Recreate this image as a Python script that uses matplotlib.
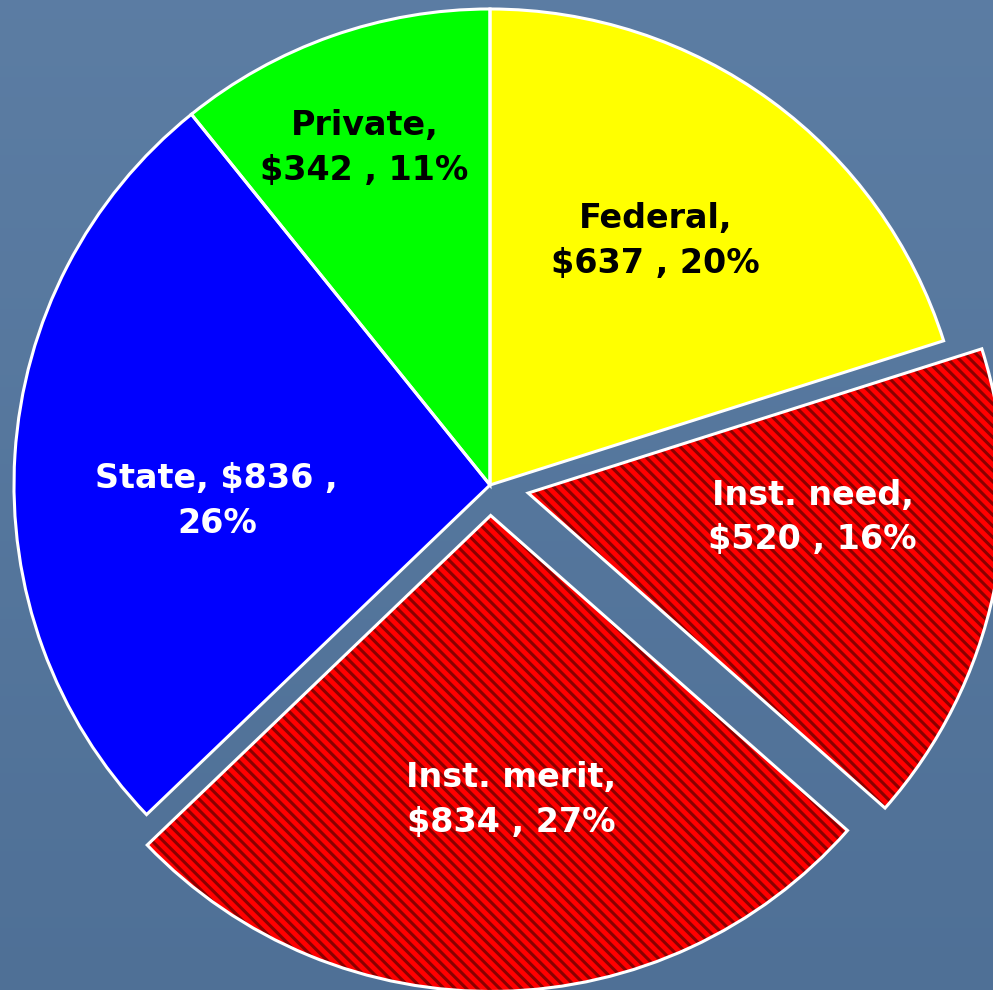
import numpy as np
import matplotlib.pyplot as plt

# Aid sources (in $ millions), clockwise from 12 o'clock
labels = ["Federal,\n$637 , 20%", "Inst. need,\n$520 , 16%", "Inst. merit,\n$834 , 27%",
          "State, $836 ,\n26%", "Private,\n$342 , 11%"]
values = [637, 520, 834, 836, 342]
colors = ["#ffff00", "#ff0000", "#ff0000", "#0000ff", "#00ff00"]
text_colors = ["black", "white", "white", "white", "black"]
hatched = [False, True, True, False, False]

radius = 476
# pie() takes the explode offset in data units here (pixels)
explode = [0, 0.082 * radius, 0.064 * radius, 0, 0]

# label placement: (fraction of radius, angle tweak in degrees)
label_pos = [(0.62, 2), (0.60, 7), (0.60, 3), (0.575, 7), (0.755, 1)]

plt.rcParams['hatch.linewidth'] = 2.2

fig = plt.figure(figsize=(9.93, 9.90), dpi=100)
ax = fig.add_axes([0, 0, 1, 1])
ax.axis('off')

# background gradient (blue slate), lighter at the top
grad = np.linspace(0, 1, 256).reshape(-1, 1)
top = np.array([0.36, 0.49, 0.64])
bot = np.array([0.31, 0.44, 0.59])
bg = top + (bot - top) * grad[:, :, None]
ax.imshow(bg, extent=[0, 993, 0, 990], origin='upper', aspect='auto', zorder=0)

center = (490, 505)

wedges, _ = ax.pie(values, colors=colors, explode=explode, startangle=90,
                   counterclock=False, center=center, radius=radius,
                   wedgeprops=dict(linewidth=0))
for w, h in zip(wedges, hatched):
    w.set_zorder(2)
    if h:
        w.set_hatch('\\\\\\')
        w.set_edgecolor('#8a0000')

# white outlines on top
outl, _ = ax.pie(values, colors=['none'] * 5, explode=explode, startangle=90,
                 counterclock=False, center=center, radius=radius,
                 wedgeprops=dict(linewidth=2.2, edgecolor='white', fill=False))
for w in outl:
    w.set_zorder(3)
ax.set_xlim(0, 993)
ax.set_ylim(0, 990)
ax.set_aspect('auto')

for w, lab, tc, (frac, dang) in zip(wedges, labels, text_colors, label_pos):
    ang = np.radians((w.theta1 + w.theta2) / 2 + dang)
    cx, cy = w.center
    ax.text(cx + frac * radius * np.cos(ang), cy + frac * radius * np.sin(ang), lab,
            ha='center', va='center', color=tc, fontsize=24, fontweight='bold',
            family='DejaVu Sans', linespacing=1.45, zorder=4)

fig.savefig("out.png", dpi=100)
